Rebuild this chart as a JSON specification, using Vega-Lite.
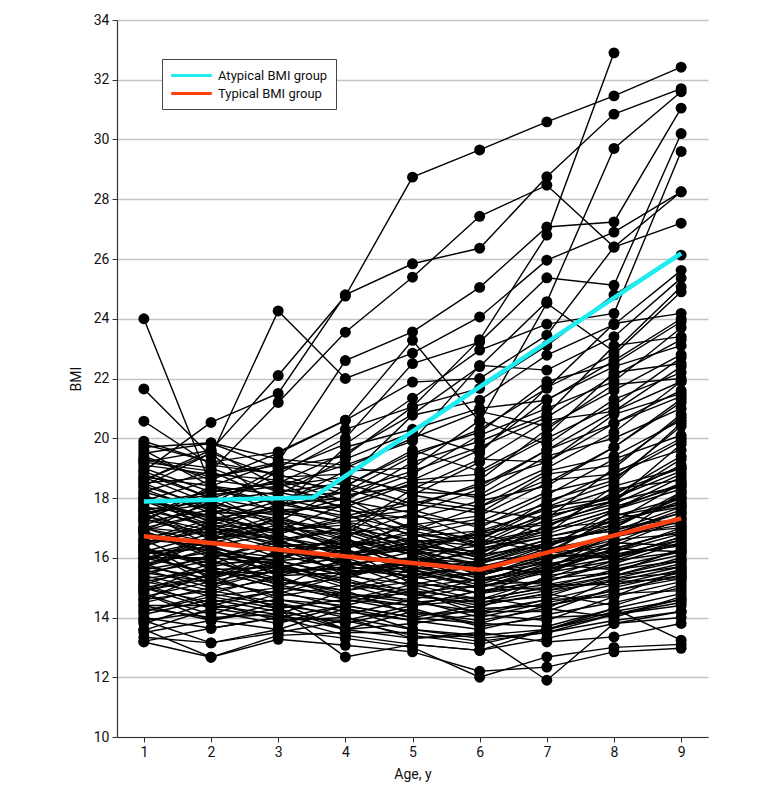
{
"$schema": "https://vega.github.io/schema/vega-lite/v6.json",
"autosize": {"type": "none"},
"padding": {"left": 117, "top": 20, "right": 72, "bottom": 56},
"width": 591,
"height": 717,
"background": "white",
"config": {"view": {"stroke": null}, "font": "Roboto"},
"datasets": {
"means": [
{"group": "Atypical BMI group", "age": 1, "bmi": 17.88},
{"group": "Atypical BMI group", "age": 3.52, "bmi": 18.02},
{"group": "Atypical BMI group", "age": 9, "bmi": 26.19},
{"group": "Typical BMI group", "age": 1, "bmi": 16.72},
{"group": "Typical BMI group", "age": 6, "bmi": 15.6},
{"group": "Typical BMI group", "age": 9, "bmi": 17.32}
],
"kids": [
{"id":1,"age":1,"bmi":18.6},{"id":1,"age":2,"bmi":19.6},{"id":1,"age":3,"bmi":22.1},{"id":1,"age":4,"bmi":24.76},{"id":1,"age":5,"bmi":28.74},{"id":1,"age":6,"bmi":29.65},{"id":1,"age":7,"bmi":30.59},{"id":1,"age":8,"bmi":31.46},{"id":1,"age":9,"bmi":32.42},
{"id":2,"age":1,"bmi":18.9},{"id":2,"age":2,"bmi":20.53},{"id":2,"age":3,"bmi":21.5},{"id":2,"age":4,"bmi":24.8},{"id":2,"age":5,"bmi":25.84},{"id":2,"age":6,"bmi":26.36},{"id":2,"age":7,"bmi":28.75},{"id":2,"age":8,"bmi":30.85},{"id":2,"age":9,"bmi":31.7},
{"id":3,"age":1,"bmi":19.2},{"id":3,"age":2,"bmi":18.9},{"id":3,"age":3,"bmi":21.2},{"id":3,"age":4,"bmi":23.55},{"id":3,"age":5,"bmi":25.39},{"id":3,"age":6,"bmi":27.43},{"id":3,"age":7,"bmi":28.47},{"id":3,"age":8,"bmi":26.4},{"id":3,"age":9,"bmi":28.25},
{"id":4,"age":1,"bmi":17.5},{"id":4,"age":2,"bmi":17.8},{"id":4,"age":3,"bmi":19.0},{"id":4,"age":4,"bmi":20.3},{"id":4,"age":5,"bmi":21.05},{"id":4,"age":6,"bmi":23.3},{"id":4,"age":7,"bmi":26.8},{"id":4,"age":8,"bmi":32.9},
{"id":5,"age":1,"bmi":17.8},{"id":5,"age":2,"bmi":18.2},{"id":5,"age":3,"bmi":18.5},{"id":5,"age":4,"bmi":19.5},{"id":5,"age":5,"bmi":20.8},{"id":5,"age":6,"bmi":22.4},{"id":5,"age":7,"bmi":24.57},{"id":5,"age":8,"bmi":29.7},{"id":5,"age":9,"bmi":31.6},
{"id":6,"age":1,"bmi":24.0},{"id":6,"age":2,"bmi":18.4},{"id":6,"age":3,"bmi":19.2},{"id":6,"age":4,"bmi":22.6},{"id":6,"age":5,"bmi":23.56},{"id":6,"age":6,"bmi":25.05},{"id":6,"age":7,"bmi":27.07},{"id":6,"age":8,"bmi":27.24},{"id":6,"age":9,"bmi":31.05},
{"id":7,"age":1,"bmi":21.65},{"id":7,"age":2,"bmi":19.4},{"id":7,"age":3,"bmi":24.26},{"id":7,"age":4,"bmi":22.0},{"id":7,"age":5,"bmi":22.85},{"id":7,"age":6,"bmi":24.06},{"id":7,"age":7,"bmi":25.96},{"id":7,"age":8,"bmi":26.9},{"id":7,"age":9,"bmi":28.25},
{"id":8,"age":1,"bmi":20.57},{"id":8,"age":2,"bmi":19.1},{"id":8,"age":3,"bmi":18.8},{"id":8,"age":4,"bmi":20.0},{"id":8,"age":5,"bmi":22.5},{"id":8,"age":6,"bmi":23.22},{"id":8,"age":7,"bmi":25.37},{"id":8,"age":8,"bmi":25.12},{"id":8,"age":9,"bmi":30.2},
{"id":9,"age":1,"bmi":18.2},{"id":9,"age":2,"bmi":17.6},{"id":9,"age":3,"bmi":18.9},{"id":9,"age":4,"bmi":19.8},{"id":9,"age":5,"bmi":21.34},{"id":9,"age":6,"bmi":22.95},{"id":9,"age":7,"bmi":23.82},{"id":9,"age":8,"bmi":24.18},{"id":9,"age":9,"bmi":29.6},
{"id":10,"age":1,"bmi":17.9},{"id":10,"age":2,"bmi":18.6},{"id":10,"age":3,"bmi":19.5},{"id":10,"age":4,"bmi":20.6},{"id":10,"age":5,"bmi":21.88},{"id":10,"age":6,"bmi":22.0},{"id":10,"age":7,"bmi":23.45},{"id":10,"age":8,"bmi":26.4},{"id":10,"age":9,"bmi":27.2},
{"id":11,"age":1,"bmi":19.5},{"id":11,"age":2,"bmi":19.83},{"id":11,"age":3,"bmi":19.0},{"id":11,"age":4,"bmi":19.4},{"id":11,"age":5,"bmi":21.05},{"id":11,"age":6,"bmi":21.67},{"id":11,"age":7,"bmi":23.1},{"id":11,"age":8,"bmi":24.8},{"id":11,"age":9,"bmi":26.13},
{"id":12,"age":1,"bmi":18.0},{"id":12,"age":2,"bmi":17.2},{"id":12,"age":3,"bmi":17.9},{"id":12,"age":4,"bmi":18.6},{"id":12,"age":5,"bmi":20.77},{"id":12,"age":6,"bmi":21.27},{"id":12,"age":7,"bmi":22.78},{"id":12,"age":8,"bmi":23.8},{"id":12,"age":9,"bmi":25.62},
{"id":13,"age":1,"bmi":17.3},{"id":13,"age":2,"bmi":18.1},{"id":13,"age":3,"bmi":18.4},{"id":13,"age":4,"bmi":19.1},{"id":13,"age":5,"bmi":19.9},{"id":13,"age":6,"bmi":22.44},{"id":13,"age":7,"bmi":22.28},{"id":13,"age":8,"bmi":23.4},{"id":13,"age":9,"bmi":25.36},
{"id":14,"age":1,"bmi":19.8},{"id":14,"age":2,"bmi":19.2},{"id":14,"age":3,"bmi":19.54},{"id":14,"age":4,"bmi":20.6},{"id":14,"age":5,"bmi":23.28},{"id":14,"age":6,"bmi":20.55},{"id":14,"age":7,"bmi":24.52},{"id":14,"age":8,"bmi":22.9},{"id":14,"age":9,"bmi":25.07},
{"id":15,"age":1,"bmi":16.9},{"id":15,"age":2,"bmi":17.5},{"id":15,"age":3,"bmi":18.0},{"id":15,"age":4,"bmi":18.2},{"id":15,"age":5,"bmi":19.4},{"id":15,"age":6,"bmi":20.3},{"id":15,"age":7,"bmi":21.67},{"id":15,"age":8,"bmi":23.84},{"id":15,"age":9,"bmi":24.18},
{"id":16,"age":1,"bmi":18.4},{"id":16,"age":2,"bmi":19.5},{"id":16,"age":3,"bmi":17.6},{"id":16,"age":4,"bmi":19.7},{"id":16,"age":5,"bmi":20.3},{"id":16,"age":6,"bmi":21.0},{"id":16,"age":7,"bmi":21.27},{"id":16,"age":8,"bmi":22.6},{"id":16,"age":9,"bmi":24.0},
{"id":17,"age":1,"bmi":17.0},{"id":17,"age":2,"bmi":16.8},{"id":17,"age":3,"bmi":17.4},{"id":17,"age":4,"bmi":18.0},{"id":17,"age":5,"bmi":18.8},{"id":17,"age":6,"bmi":20.1},{"id":17,"age":7,"bmi":21.0},{"id":17,"age":8,"bmi":21.9},{"id":17,"age":9,"bmi":23.7},
{"id":18,"age":1,"bmi":18.8},{"id":18,"age":2,"bmi":18.0},{"id":18,"age":3,"bmi":18.6},{"id":18,"age":4,"bmi":17.9},{"id":18,"age":5,"bmi":19.2},{"id":18,"age":6,"bmi":19.9},{"id":18,"age":7,"bmi":20.8},{"id":18,"age":8,"bmi":23.1},{"id":18,"age":9,"bmi":23.4},
{"id":19,"age":1,"bmi":16.4},{"id":19,"age":2,"bmi":17.1},{"id":19,"age":3,"bmi":16.9},{"id":19,"age":4,"bmi":17.8},{"id":19,"age":5,"bmi":18.6},{"id":19,"age":6,"bmi":19.6},{"id":19,"age":7,"bmi":21.3},{"id":19,"age":8,"bmi":22.4},{"id":19,"age":9,"bmi":23.1},
{"id":20,"age":1,"bmi":19.3},{"id":20,"age":2,"bmi":18.7},{"id":20,"age":3,"bmi":19.2},{"id":20,"age":4,"bmi":19.0},{"id":20,"age":5,"bmi":20.0},{"id":20,"age":6,"bmi":20.9},{"id":20,"age":7,"bmi":20.4},{"id":20,"age":8,"bmi":21.6},{"id":20,"age":9,"bmi":22.8},
{"id":21,"age":1,"bmi":17.6},{"id":21,"age":2,"bmi":17.9},{"id":21,"age":3,"bmi":17.2},{"id":21,"age":4,"bmi":18.4},{"id":21,"age":5,"bmi":19.6},{"id":21,"age":6,"bmi":18.9},{"id":21,"age":7,"bmi":20.1},{"id":21,"age":8,"bmi":22.2},{"id":21,"age":9,"bmi":22.5},
{"id":22,"age":1,"bmi":18.1},{"id":22,"age":2,"bmi":16.9},{"id":22,"age":3,"bmi":17.8},{"id":22,"age":4,"bmi":18.9},{"id":22,"age":5,"bmi":19.0},{"id":22,"age":6,"bmi":20.6},{"id":22,"age":7,"bmi":19.8},{"id":22,"age":8,"bmi":21.3},{"id":22,"age":9,"bmi":22.2},
{"id":23,"age":1,"bmi":15.9},{"id":23,"age":2,"bmi":16.6},{"id":23,"age":3,"bmi":17.0},{"id":23,"age":4,"bmi":16.8},{"id":23,"age":5,"bmi":18.1},{"id":23,"age":6,"bmi":19.2},{"id":23,"age":7,"bmi":20.6},{"id":23,"age":8,"bmi":20.9},{"id":23,"age":9,"bmi":21.9},
{"id":24,"age":1,"bmi":17.2},{"id":24,"age":2,"bmi":18.4},{"id":24,"age":3,"bmi":18.1},{"id":24,"age":4,"bmi":19.3},{"id":24,"age":5,"bmi":20.2},{"id":24,"age":6,"bmi":19.5},{"id":24,"age":7,"bmi":21.7},{"id":24,"age":8,"bmi":22.8},{"id":24,"age":9,"bmi":24.9},
{"id":25,"age":1,"bmi":16.8},{"id":25,"age":2,"bmi":16.2},{"id":25,"age":3,"bmi":15.9},{"id":25,"age":4,"bmi":15.4},{"id":25,"age":5,"bmi":15.1},{"id":25,"age":6,"bmi":15.0},{"id":25,"age":7,"bmi":15.6},{"id":25,"age":8,"bmi":16.3},{"id":25,"age":9,"bmi":16.9},
{"id":26,"age":1,"bmi":15.2},{"id":26,"age":2,"bmi":15.6},{"id":26,"age":3,"bmi":15.0},{"id":26,"age":4,"bmi":14.8},{"id":26,"age":5,"bmi":14.5},{"id":26,"age":6,"bmi":14.2},{"id":26,"age":7,"bmi":14.6},{"id":26,"age":8,"bmi":15.1},{"id":26,"age":9,"bmi":15.4},
{"id":27,"age":1,"bmi":17.9},{"id":27,"age":2,"bmi":17.1},{"id":27,"age":3,"bmi":16.6},{"id":27,"age":4,"bmi":16.9},{"id":27,"age":5,"bmi":16.2},{"id":27,"age":6,"bmi":15.8},{"id":27,"age":7,"bmi":16.5},{"id":27,"age":8,"bmi":17.0},{"id":27,"age":9,"bmi":18.2},
{"id":28,"age":1,"bmi":14.6},{"id":28,"age":2,"bmi":14.9},{"id":28,"age":3,"bmi":15.3},{"id":28,"age":4,"bmi":14.7},{"id":28,"age":5,"bmi":14.4},{"id":28,"age":6,"bmi":14.9},{"id":28,"age":7,"bmi":15.2},{"id":28,"age":8,"bmi":15.8},{"id":28,"age":9,"bmi":16.5},
{"id":29,"age":1,"bmi":18.5},{"id":29,"age":2,"bmi":17.6},{"id":29,"age":3,"bmi":17.2},{"id":29,"age":4,"bmi":16.4},{"id":29,"age":5,"bmi":16.8},{"id":29,"age":6,"bmi":16.1},{"id":29,"age":7,"bmi":17.3},{"id":29,"age":8,"bmi":18.1},{"id":29,"age":9,"bmi":19.4},
{"id":30,"age":1,"bmi":16.1},{"id":30,"age":2,"bmi":15.4},{"id":30,"age":3,"bmi":15.8},{"id":30,"age":4,"bmi":15.2},{"id":30,"age":5,"bmi":14.9},{"id":30,"age":6,"bmi":14.6},{"id":30,"age":7,"bmi":15.0},{"id":30,"age":8,"bmi":15.4},{"id":30,"age":9,"bmi":15.9},
{"id":31,"age":1,"bmi":19.6},{"id":31,"age":2,"bmi":18.4},{"id":31,"age":3,"bmi":17.5},{"id":31,"age":4,"bmi":17.8},{"id":31,"age":5,"bmi":17.0},{"id":31,"age":6,"bmi":16.6},{"id":31,"age":7,"bmi":17.9},{"id":31,"age":8,"bmi":18.6},{"id":31,"age":9,"bmi":20.4},
{"id":32,"age":1,"bmi":13.2},{"id":32,"age":2,"bmi":13.64},{"id":32,"age":3,"bmi":14.0},{"id":32,"age":4,"bmi":13.9},{"id":32,"age":5,"bmi":13.4},{"id":32,"age":6,"bmi":13.1},{"id":32,"age":7,"bmi":13.6},{"id":32,"age":8,"bmi":14.2},{"id":32,"age":9,"bmi":14.6},
{"id":33,"age":1,"bmi":17.4},{"id":33,"age":2,"bmi":16.9},{"id":33,"age":3,"bmi":16.3},{"id":33,"age":4,"bmi":15.8},{"id":33,"age":5,"bmi":15.6},{"id":33,"age":6,"bmi":15.2},{"id":33,"age":7,"bmi":15.9},{"id":33,"age":8,"bmi":16.8},{"id":33,"age":9,"bmi":17.6},
{"id":34,"age":1,"bmi":15.7},{"id":34,"age":2,"bmi":16.3},{"id":34,"age":3,"bmi":15.4},{"id":34,"age":4,"bmi":15.9},{"id":34,"age":5,"bmi":15.3},{"id":34,"age":6,"bmi":15.5},{"id":34,"age":7,"bmi":16.2},{"id":34,"age":8,"bmi":16.0},{"id":34,"age":9,"bmi":16.7},
{"id":35,"age":1,"bmi":16.5},{"id":35,"age":2,"bmi":17.2},{"id":35,"age":3,"bmi":16.8},{"id":35,"age":4,"bmi":16.0},{"id":35,"age":5,"bmi":16.4},{"id":35,"age":6,"bmi":15.9},{"id":35,"age":7,"bmi":16.1},{"id":35,"age":8,"bmi":17.4},{"id":35,"age":9,"bmi":18.0},
{"id":36,"age":1,"bmi":14.2},{"id":36,"age":2,"bmi":14.8},{"id":36,"age":3,"bmi":14.4},{"id":36,"age":4,"bmi":14.1},{"id":36,"age":5,"bmi":14.6},{"id":36,"age":6,"bmi":14.0},{"id":36,"age":7,"bmi":14.5},{"id":36,"age":8,"bmi":14.9},{"id":36,"age":9,"bmi":15.3},
{"id":37,"age":1,"bmi":18.2},{"id":37,"age":2,"bmi":18.9},{"id":37,"age":3,"bmi":17.9},{"id":37,"age":4,"bmi":17.3},{"id":37,"age":5,"bmi":17.6},{"id":37,"age":6,"bmi":17.0},{"id":37,"age":7,"bmi":18.1},{"id":37,"age":8,"bmi":19.3},{"id":37,"age":9,"bmi":20.1},
{"id":38,"age":1,"bmi":15.0},{"id":38,"age":2,"bmi":14.5},{"id":38,"age":3,"bmi":14.9},{"id":38,"age":4,"bmi":15.5},{"id":38,"age":5,"bmi":14.8},{"id":38,"age":6,"bmi":14.3},{"id":38,"age":7,"bmi":15.4},{"id":38,"age":8,"bmi":15.7},{"id":38,"age":9,"bmi":16.2},
{"id":39,"age":1,"bmi":16.9},{"id":39,"age":2,"bmi":16.0},{"id":39,"age":3,"bmi":16.5},{"id":39,"age":4,"bmi":16.2},{"id":39,"age":5,"bmi":15.7},{"id":39,"age":6,"bmi":16.3},{"id":39,"age":7,"bmi":16.8},{"id":39,"age":8,"bmi":17.5},{"id":39,"age":9,"bmi":17.1},
{"id":40,"age":1,"bmi":17.7},{"id":40,"age":2,"bmi":17.4},{"id":40,"age":3,"bmi":16.9},{"id":40,"age":4,"bmi":17.1},{"id":40,"age":5,"bmi":16.5},{"id":40,"age":6,"bmi":16.8},{"id":40,"age":7,"bmi":17.2},{"id":40,"age":8,"bmi":17.8},{"id":40,"age":9,"bmi":18.8},
{"id":41,"age":1,"bmi":13.57},{"id":41,"age":2,"bmi":14.3},{"id":41,"age":3,"bmi":14.6},{"id":41,"age":4,"bmi":14.2},{"id":41,"age":5,"bmi":13.9},{"id":41,"age":6,"bmi":13.6},{"id":41,"age":7,"bmi":14.1},{"id":41,"age":8,"bmi":14.5},{"id":41,"age":9,"bmi":15.0},
{"id":42,"age":1,"bmi":19.0},{"id":42,"age":2,"bmi":18.2},{"id":42,"age":3,"bmi":18.5},{"id":42,"age":4,"bmi":17.6},{"id":42,"age":5,"bmi":17.3},{"id":42,"age":6,"bmi":17.9},{"id":42,"age":7,"bmi":18.4},{"id":42,"age":8,"bmi":19.7},{"id":42,"age":9,"bmi":21.2},
{"id":43,"age":1,"bmi":15.5},{"id":43,"age":2,"bmi":15.9},{"id":43,"age":3,"bmi":15.2},{"id":43,"age":4,"bmi":14.9},{"id":43,"age":5,"bmi":15.2},{"id":43,"age":6,"bmi":14.8},{"id":43,"age":7,"bmi":15.3},{"id":43,"age":8,"bmi":16.1},{"id":43,"age":9,"bmi":16.4},
{"id":44,"age":1,"bmi":16.3},{"id":44,"age":2,"bmi":15.7},{"id":44,"age":3,"bmi":16.1},{"id":44,"age":4,"bmi":15.6},{"id":44,"age":5,"bmi":15.9},{"id":44,"age":6,"bmi":15.3},{"id":44,"age":7,"bmi":15.7},{"id":44,"age":8,"bmi":16.4},{"id":44,"age":9,"bmi":17.3},
{"id":45,"age":1,"bmi":14.9},{"id":45,"age":2,"bmi":15.3},{"id":45,"age":3,"bmi":14.7},{"id":45,"age":4,"bmi":15.1},{"id":45,"age":5,"bmi":14.5},{"id":45,"age":6,"bmi":14.7},{"id":45,"age":7,"bmi":14.3},{"id":45,"age":8,"bmi":15.3},{"id":45,"age":9,"bmi":15.8},
{"id":46,"age":1,"bmi":17.1},{"id":46,"age":2,"bmi":17.8},{"id":46,"age":3,"bmi":17.4},{"id":46,"age":4,"bmi":16.6},{"id":46,"age":5,"bmi":16.1},{"id":46,"age":6,"bmi":16.4},{"id":46,"age":7,"bmi":17.0},{"id":46,"age":8,"bmi":17.2},{"id":46,"age":9,"bmi":18.5},
{"id":47,"age":1,"bmi":18.7},{"id":47,"age":2,"bmi":17.8},{"id":47,"age":3,"bmi":16.8},{"id":47,"age":4,"bmi":17.4},{"id":47,"age":5,"bmi":16.9},{"id":47,"age":6,"bmi":17.3},{"id":47,"age":7,"bmi":16.8},{"id":47,"age":8,"bmi":18.4},{"id":47,"age":9,"bmi":19.0},
{"id":48,"age":1,"bmi":15.8},{"id":48,"age":2,"bmi":15.1},{"id":48,"age":3,"bmi":15.6},{"id":48,"age":4,"bmi":16.3},{"id":48,"age":5,"bmi":15.5},{"id":48,"age":6,"bmi":15.1},{"id":48,"age":7,"bmi":15.8},{"id":48,"age":8,"bmi":15.6},{"id":48,"age":9,"bmi":16.1},
{"id":49,"age":1,"bmi":13.9},{"id":49,"age":2,"bmi":14.2},{"id":49,"age":3,"bmi":13.8},{"id":49,"age":4,"bmi":14.4},{"id":49,"age":5,"bmi":14.0},{"id":49,"age":6,"bmi":14.4},{"id":49,"age":7,"bmi":14.8},{"id":49,"age":8,"bmi":14.4},{"id":49,"age":9,"bmi":15.1},
{"id":50,"age":1,"bmi":16.6},{"id":50,"age":2,"bmi":16.4},{"id":50,"age":3,"bmi":15.7},{"id":50,"age":4,"bmi":15.3},{"id":50,"age":5,"bmi":16.0},{"id":50,"age":6,"bmi":15.6},{"id":50,"age":7,"bmi":16.4},{"id":50,"age":8,"bmi":17.1},{"id":50,"age":9,"bmi":17.9},
{"id":51,"age":1,"bmi":19.3},{"id":51,"age":2,"bmi":19.0},{"id":51,"age":3,"bmi":18.2},{"id":51,"age":4,"bmi":18.5},{"id":51,"age":5,"bmi":17.8},{"id":51,"age":6,"bmi":17.5},{"id":51,"age":7,"bmi":18.8},{"id":51,"age":8,"bmi":19.1},{"id":51,"age":9,"bmi":20.7},
{"id":52,"age":1,"bmi":15.3},{"id":52,"age":2,"bmi":14.7},{"id":52,"age":3,"bmi":14.3},{"id":52,"age":4,"bmi":14.6},{"id":52,"age":5,"bmi":14.2},{"id":52,"age":6,"bmi":13.8},{"id":52,"age":7,"bmi":14.4},{"id":52,"age":8,"bmi":14.8},{"id":52,"age":9,"bmi":14.9},
{"id":53,"age":1,"bmi":17.0},{"id":53,"age":2,"bmi":16.5},{"id":53,"age":3,"bmi":17.0},{"id":53,"age":4,"bmi":16.4},{"id":53,"age":5,"bmi":16.6},{"id":53,"age":6,"bmi":16.0},{"id":53,"age":7,"bmi":16.6},{"id":53,"age":8,"bmi":16.9},{"id":53,"age":9,"bmi":17.5},
{"id":54,"age":1,"bmi":14.4},{"id":54,"age":2,"bmi":13.9},{"id":54,"age":3,"bmi":14.5},{"id":54,"age":4,"bmi":13.6},{"id":54,"age":5,"bmi":13.8},{"id":54,"age":6,"bmi":14.1},{"id":54,"age":7,"bmi":13.9},{"id":54,"age":8,"bmi":14.7},{"id":54,"age":9,"bmi":15.6},
{"id":55,"age":1,"bmi":18.0},{"id":55,"age":2,"bmi":17.3},{"id":55,"age":3,"bmi":17.7},{"id":55,"age":4,"bmi":16.8},{"id":55,"age":5,"bmi":17.1},{"id":55,"age":6,"bmi":16.5},{"id":55,"age":7,"bmi":17.5},{"id":55,"age":8,"bmi":18.0},{"id":55,"age":9,"bmi":19.1},
{"id":56,"age":1,"bmi":16.2},{"id":56,"age":2,"bmi":16.8},{"id":56,"age":3,"bmi":16.0},{"id":56,"age":4,"bmi":16.7},{"id":56,"age":5,"bmi":15.4},{"id":56,"age":6,"bmi":15.8},{"id":56,"age":7,"bmi":15.4},{"id":56,"age":8,"bmi":16.6},{"id":56,"age":9,"bmi":16.8},
{"id":57,"age":1,"bmi":15.6},{"id":57,"age":2,"bmi":16.0},{"id":57,"age":3,"bmi":16.6},{"id":57,"age":4,"bmi":15.7},{"id":57,"age":5,"bmi":16.2},{"id":57,"age":6,"bmi":15.4},{"id":57,"age":7,"bmi":16.0},{"id":57,"age":8,"bmi":16.2},{"id":57,"age":9,"bmi":17.0},
{"id":58,"age":1,"bmi":17.6},{"id":58,"age":2,"bmi":16.6},{"id":58,"age":3,"bmi":16.2},{"id":58,"age":4,"bmi":16.6},{"id":58,"age":5,"bmi":15.8},{"id":58,"age":6,"bmi":16.2},{"id":58,"age":7,"bmi":16.9},{"id":58,"age":8,"bmi":17.6},{"id":58,"age":9,"bmi":18.3},
{"id":59,"age":1,"bmi":14.7},{"id":59,"age":2,"bmi":15.2},{"id":59,"age":3,"bmi":15.7},{"id":59,"age":4,"bmi":15.0},{"id":59,"age":5,"bmi":15.6},{"id":59,"age":6,"bmi":15.0},{"id":59,"age":7,"bmi":15.5},{"id":59,"age":8,"bmi":15.9},{"id":59,"age":9,"bmi":16.6},
{"id":60,"age":1,"bmi":19.9},{"id":60,"age":2,"bmi":19.2},{"id":60,"age":3,"bmi":18.8},{"id":60,"age":4,"bmi":18.1},{"id":60,"age":5,"bmi":18.4},{"id":60,"age":6,"bmi":18.0},{"id":60,"age":7,"bmi":19.0},{"id":60,"age":8,"bmi":20.2},{"id":60,"age":9,"bmi":21.9},
{"id":61,"age":1,"bmi":13.34},{"id":61,"age":2,"bmi":13.15},{"id":61,"age":3,"bmi":13.6},{"id":61,"age":4,"bmi":14.3},{"id":61,"age":5,"bmi":13.6},{"id":61,"age":6,"bmi":13.3},{"id":61,"age":7,"bmi":13.5},{"id":61,"age":8,"bmi":13.9},{"id":61,"age":9,"bmi":14.2},
{"id":62,"age":1,"bmi":16.0},{"id":62,"age":2,"bmi":15.5},{"id":62,"age":3,"bmi":15.5},{"id":62,"age":4,"bmi":15.8},{"id":62,"age":5,"bmi":15.0},{"id":62,"age":6,"bmi":15.3},{"id":62,"age":7,"bmi":15.1},{"id":62,"age":8,"bmi":15.5},{"id":62,"age":9,"bmi":16.3},
{"id":63,"age":1,"bmi":17.3},{"id":63,"age":2,"bmi":16.7},{"id":63,"age":3,"bmi":17.3},{"id":63,"age":4,"bmi":16.1},{"id":63,"age":5,"bmi":16.7},{"id":63,"age":6,"bmi":16.9},{"id":63,"age":7,"bmi":17.6},{"id":63,"age":8,"bmi":18.3},{"id":63,"age":9,"bmi":18.6},
{"id":64,"age":1,"bmi":15.4},{"id":64,"age":2,"bmi":16.1},{"id":64,"age":3,"bmi":15.1},{"id":64,"age":4,"bmi":15.3},{"id":64,"age":5,"bmi":14.7},{"id":64,"age":6,"bmi":14.5},{"id":64,"age":7,"bmi":14.9},{"id":64,"age":8,"bmi":15.2},{"id":64,"age":9,"bmi":15.7},
{"id":65,"age":1,"bmi":18.3},{"id":65,"age":2,"bmi":17.5},{"id":65,"age":3,"bmi":18.0},{"id":65,"age":4,"bmi":17.5},{"id":65,"age":5,"bmi":16.4},{"id":65,"age":6,"bmi":16.7},{"id":65,"age":7,"bmi":17.4},{"id":65,"age":8,"bmi":17.9},{"id":65,"age":9,"bmi":19.8},
{"id":66,"age":1,"bmi":14.1},{"id":66,"age":2,"bmi":14.6},{"id":66,"age":3,"bmi":14.2},{"id":66,"age":4,"bmi":13.8},{"id":66,"age":5,"bmi":14.3},{"id":66,"age":6,"bmi":13.7},{"id":66,"age":7,"bmi":14.0},{"id":66,"age":8,"bmi":14.1},{"id":66,"age":9,"bmi":14.4},
{"id":67,"age":1,"bmi":16.7},{"id":67,"age":2,"bmi":17.0},{"id":67,"age":3,"bmi":16.4},{"id":67,"age":4,"bmi":16.5},{"id":67,"age":5,"bmi":15.8},{"id":67,"age":6,"bmi":16.6},{"id":67,"age":7,"bmi":16.2},{"id":67,"age":8,"bmi":17.3},{"id":67,"age":9,"bmi":17.7},
{"id":68,"age":1,"bmi":15.1},{"id":68,"age":2,"bmi":15.8},{"id":68,"age":3,"bmi":15.9},{"id":68,"age":4,"bmi":15.4},{"id":68,"age":5,"bmi":16.0},{"id":68,"age":6,"bmi":15.6},{"id":68,"age":7,"bmi":16.3},{"id":68,"age":8,"bmi":16.7},{"id":68,"age":9,"bmi":17.2},
{"id":69,"age":1,"bmi":17.8},{"id":69,"age":2,"bmi":18.1},{"id":69,"age":3,"bmi":17.0},{"id":69,"age":4,"bmi":16.3},{"id":69,"age":5,"bmi":17.2},{"id":69,"age":6,"bmi":16.3},{"id":69,"age":7,"bmi":16.7},{"id":69,"age":8,"bmi":17.1},{"id":69,"age":9,"bmi":18.0},
{"id":70,"age":1,"bmi":16.4},{"id":70,"age":2,"bmi":15.3},{"id":70,"age":3,"bmi":16.2},{"id":70,"age":4,"bmi":15.9},{"id":70,"age":5,"bmi":15.2},{"id":70,"age":6,"bmi":14.8},{"id":70,"age":7,"bmi":15.6},{"id":70,"age":8,"bmi":16.0},{"id":70,"age":9,"bmi":16.5},
{"id":71,"age":1,"bmi":14.8},{"id":71,"age":2,"bmi":14.1},{"id":71,"age":3,"bmi":14.8},{"id":71,"age":4,"bmi":14.5},{"id":71,"age":5,"bmi":15.0},{"id":71,"age":6,"bmi":14.5},{"id":71,"age":7,"bmi":14.7},{"id":71,"age":8,"bmi":15.4},{"id":71,"age":9,"bmi":16.0},
{"id":72,"age":1,"bmi":19.4},{"id":72,"age":2,"bmi":18.6},{"id":72,"age":3,"bmi":18.3},{"id":72,"age":4,"bmi":17.9},{"id":72,"age":5,"bmi":17.5},{"id":72,"age":6,"bmi":18.3},{"id":72,"age":7,"bmi":19.6},{"id":72,"age":8,"bmi":20.5},{"id":72,"age":9,"bmi":21.6},
{"id":73,"age":1,"bmi":13.18},{"id":73,"age":2,"bmi":12.67},{"id":73,"age":3,"bmi":13.27},{"id":73,"age":4,"bmi":13.07},{"id":73,"age":5,"bmi":12.85},{"id":73,"age":6,"bmi":12.2},{"id":73,"age":7,"bmi":12.34},{"id":73,"age":8,"bmi":12.85},{"id":73,"age":9,"bmi":12.97},
{"id":74,"age":1,"bmi":15.9},{"id":74,"age":2,"bmi":16.7},{"id":74,"age":3,"bmi":16.7},{"id":74,"age":4,"bmi":16.1},{"id":74,"age":5,"bmi":16.5},{"id":74,"age":6,"bmi":16.0},{"id":74,"age":7,"bmi":17.1},{"id":74,"age":8,"bmi":17.7},{"id":74,"age":9,"bmi":18.4},
{"id":75,"age":1,"bmi":17.5},{"id":75,"age":2,"bmi":16.4},{"id":75,"age":3,"bmi":15.6},{"id":75,"age":4,"bmi":15.6},{"id":75,"age":5,"bmi":15.4},{"id":75,"age":6,"bmi":15.7},{"id":75,"age":7,"bmi":16.0},{"id":75,"age":8,"bmi":16.5},{"id":75,"age":9,"bmi":17.4},
{"id":76,"age":1,"bmi":16.2},{"id":76,"age":2,"bmi":15.9},{"id":76,"age":3,"bmi":15.3},{"id":76,"age":4,"bmi":14.8},{"id":76,"age":5,"bmi":14.6},{"id":76,"age":6,"bmi":15.1},{"id":76,"age":7,"bmi":15.2},{"id":76,"age":8,"bmi":15.9},{"id":76,"age":9,"bmi":16.2},
{"id":77,"age":1,"bmi":18.6},{"id":77,"age":2,"bmi":19.5},{"id":77,"age":3,"bmi":18.7},{"id":77,"age":4,"bmi":18.8},{"id":77,"age":5,"bmi":18.1},{"id":77,"age":6,"bmi":17.7},{"id":77,"age":7,"bmi":18.6},{"id":77,"age":8,"bmi":18.8},{"id":77,"age":9,"bmi":20.0},
{"id":78,"age":1,"bmi":14.3},{"id":78,"age":2,"bmi":14.0},{"id":78,"age":3,"bmi":14.1},{"id":78,"age":4,"bmi":14.9},{"id":78,"age":5,"bmi":14.1},{"id":78,"age":6,"bmi":14.2},{"id":78,"age":7,"bmi":14.2},{"id":78,"age":8,"bmi":15.0},{"id":78,"age":9,"bmi":15.5},
{"id":79,"age":1,"bmi":15.6},{"id":79,"age":2,"bmi":15.0},{"id":79,"age":3,"bmi":16.3},{"id":79,"age":4,"bmi":15.5},{"id":79,"age":5,"bmi":15.7},{"id":79,"age":6,"bmi":15.2},{"id":79,"age":7,"bmi":15.9},{"id":79,"age":8,"bmi":16.8},{"id":79,"age":9,"bmi":17.0},
{"id":80,"age":1,"bmi":17.2},{"id":80,"age":2,"bmi":17.6},{"id":80,"age":3,"bmi":16.6},{"id":80,"age":4,"bmi":17.0},{"id":80,"age":5,"bmi":16.3},{"id":80,"age":6,"bmi":16.1},{"id":80,"age":7,"bmi":16.4},{"id":80,"age":8,"bmi":17.4},{"id":80,"age":9,"bmi":17.8},
{"id":81,"age":1,"bmi":16.9},{"id":81,"age":2,"bmi":16.1},{"id":81,"age":3,"bmi":15.9},{"id":81,"age":4,"bmi":16.8},{"id":81,"age":5,"bmi":16.1},{"id":81,"age":6,"bmi":15.5},{"id":81,"age":7,"bmi":15.8},{"id":81,"age":8,"bmi":16.1},{"id":81,"age":9,"bmi":16.6},
{"id":82,"age":1,"bmi":13.8},{"id":82,"age":2,"bmi":14.5},{"id":82,"age":3,"bmi":13.9},{"id":82,"age":4,"bmi":14.0},{"id":82,"age":5,"bmi":13.3},{"id":82,"age":6,"bmi":13.5},{"id":82,"age":7,"bmi":13.18},{"id":82,"age":8,"bmi":13.35},{"id":82,"age":9,"bmi":13.8},
{"id":83,"age":1,"bmi":18.9},{"id":83,"age":2,"bmi":18.0},{"id":83,"age":3,"bmi":17.6},{"id":83,"age":4,"bmi":17.2},{"id":83,"age":5,"bmi":17.4},{"id":83,"age":6,"bmi":17.1},{"id":83,"age":7,"bmi":17.8},{"id":83,"age":8,"bmi":18.9},{"id":83,"age":9,"bmi":19.6},
{"id":84,"age":1,"bmi":15.3},{"id":84,"age":2,"bmi":15.6},{"id":84,"age":3,"bmi":15.0},{"id":84,"age":4,"bmi":16.0},{"id":84,"age":5,"bmi":15.3},{"id":84,"age":6,"bmi":15.9},{"id":84,"age":7,"bmi":16.5},{"id":84,"age":8,"bmi":17.0},{"id":84,"age":9,"bmi":18.1},
{"id":85,"age":1,"bmi":16.5},{"id":85,"age":2,"bmi":16.9},{"id":85,"age":3,"bmi":16.5},{"id":85,"age":4,"bmi":15.4},{"id":85,"age":5,"bmi":15.9},{"id":85,"age":6,"bmi":15.7},{"id":85,"age":7,"bmi":15.5},{"id":85,"age":8,"bmi":16.3},{"id":85,"age":9,"bmi":16.9},
{"id":86,"age":1,"bmi":14.5},{"id":86,"age":2,"bmi":15.0},{"id":86,"age":3,"bmi":15.6},{"id":86,"age":4,"bmi":15.2},{"id":86,"age":5,"bmi":14.7},{"id":86,"age":6,"bmi":15.3},{"id":86,"age":7,"bmi":15.6},{"id":86,"age":8,"bmi":16.2},{"id":86,"age":9,"bmi":16.8},
{"id":87,"age":1,"bmi":17.7},{"id":87,"age":2,"bmi":17.0},{"id":87,"age":3,"bmi":16.7},{"id":87,"age":4,"bmi":16.3},{"id":87,"age":5,"bmi":16.9},{"id":87,"age":6,"bmi":16.4},{"id":87,"age":7,"bmi":17.4},{"id":87,"age":8,"bmi":17.9},{"id":87,"age":9,"bmi":19.3},
{"id":88,"age":1,"bmi":15.0},{"id":88,"age":2,"bmi":15.4},{"id":88,"age":3,"bmi":14.6},{"id":88,"age":4,"bmi":14.4},{"id":88,"age":5,"bmi":14.9},{"id":88,"age":6,"bmi":14.1},{"id":88,"age":7,"bmi":14.6},{"id":88,"age":8,"bmi":14.7},{"id":88,"age":9,"bmi":15.2},
{"id":89,"age":1,"bmi":16.1},{"id":89,"age":2,"bmi":16.6},{"id":89,"age":3,"bmi":17.1},{"id":89,"age":4,"bmi":16.6},{"id":89,"age":5,"bmi":16.2},{"id":89,"age":6,"bmi":16.8},{"id":89,"age":7,"bmi":16.3},{"id":89,"age":8,"bmi":17.6},{"id":89,"age":9,"bmi":18.7},
{"id":90,"age":1,"bmi":18.1},{"id":90,"age":2,"bmi":17.2},{"id":90,"age":3,"bmi":17.6},{"id":90,"age":4,"bmi":17.7},{"id":90,"age":5,"bmi":16.7},{"id":90,"age":6,"bmi":17.2},{"id":90,"age":7,"bmi":18.2},{"id":90,"age":8,"bmi":18.7},{"id":90,"age":9,"bmi":19.9},
{"id":91,"age":1,"bmi":13.5},{"id":91,"age":2,"bmi":13.9},{"id":91,"age":3,"bmi":14.3},{"id":91,"age":4,"bmi":13.6},{"id":91,"age":5,"bmi":14.2},{"id":91,"age":6,"bmi":13.9},{"id":91,"age":7,"bmi":14.3},{"id":91,"age":8,"bmi":14.0},{"id":91,"age":9,"bmi":14.7},
{"id":92,"age":1,"bmi":19.7},{"id":92,"age":2,"bmi":19.85},{"id":92,"age":3,"bmi":19.3},{"id":92,"age":4,"bmi":19.1},{"id":92,"age":5,"bmi":18.6},{"id":92,"age":6,"bmi":18.8},{"id":92,"age":7,"bmi":20.0},{"id":92,"age":8,"bmi":21.1},{"id":92,"age":9,"bmi":22.7},
{"id":93,"age":1,"bmi":15.8},{"id":93,"age":2,"bmi":16.2},{"id":93,"age":3,"bmi":15.5},{"id":93,"age":4,"bmi":15.7},{"id":93,"age":5,"bmi":15.5},{"id":93,"age":6,"bmi":15.0},{"id":93,"age":7,"bmi":15.7},{"id":93,"age":8,"bmi":16.5},{"id":93,"age":9,"bmi":16.4},
{"id":94,"age":1,"bmi":17.0},{"id":94,"age":2,"bmi":16.3},{"id":94,"age":3,"bmi":16.0},{"id":94,"age":4,"bmi":16.5},{"id":94,"age":5,"bmi":15.6},{"id":94,"age":6,"bmi":15.9},{"id":94,"age":7,"bmi":16.6},{"id":94,"age":8,"bmi":16.9},{"id":94,"age":9,"bmi":17.7},
{"id":95,"age":1,"bmi":14.0},{"id":95,"age":2,"bmi":13.64},{"id":95,"age":3,"bmi":14.0},{"id":95,"age":4,"bmi":13.4},{"id":95,"age":5,"bmi":13.1},{"id":95,"age":6,"bmi":12.9},{"id":95,"age":7,"bmi":13.3},{"id":95,"age":8,"bmi":13.8},{"id":95,"age":9,"bmi":14.0},
{"id":96,"age":1,"bmi":16.6},{"id":96,"age":2,"bmi":17.3},{"id":96,"age":3,"bmi":16.9},{"id":96,"age":4,"bmi":17.2},{"id":96,"age":5,"bmi":16.8},{"id":96,"age":6,"bmi":16.5},{"id":96,"age":7,"bmi":17.0},{"id":96,"age":8,"bmi":18.2},{"id":96,"age":9,"bmi":19.0},
{"id":97,"age":1,"bmi":15.2},{"id":97,"age":2,"bmi":14.8},{"id":97,"age":3,"bmi":15.4},{"id":97,"age":4,"bmi":14.6},{"id":97,"age":5,"bmi":14.4},{"id":97,"age":6,"bmi":14.9},{"id":97,"age":7,"bmi":15.0},{"id":97,"age":8,"bmi":15.6},{"id":97,"age":9,"bmi":15.9},
{"id":98,"age":1,"bmi":18.4},{"id":98,"age":2,"bmi":17.7},{"id":98,"age":3,"bmi":17.3},{"id":98,"age":4,"bmi":16.7},{"id":98,"age":5,"bmi":17.5},{"id":98,"age":6,"bmi":16.6},{"id":98,"age":7,"bmi":17.7},{"id":98,"age":8,"bmi":18.5},{"id":98,"age":9,"bmi":20.5},
{"id":99,"age":1,"bmi":16.3},{"id":99,"age":2,"bmi":15.8},{"id":99,"age":3,"bmi":16.4},{"id":99,"age":4,"bmi":16.3},{"id":99,"age":5,"bmi":15.1},{"id":99,"age":6,"bmi":15.5},{"id":99,"age":7,"bmi":15.9},{"id":99,"age":8,"bmi":16.7},{"id":99,"age":9,"bmi":17.1},
{"id":100,"age":1,"bmi":14.6},{"id":100,"age":2,"bmi":15.5},{"id":100,"age":3,"bmi":15.3},{"id":100,"age":4,"bmi":14.9},{"id":100,"age":5,"bmi":15.4},{"id":100,"age":6,"bmi":14.8},{"id":100,"age":7,"bmi":15.1},{"id":100,"age":8,"bmi":15.1},{"id":100,"age":9,"bmi":15.6},
{"id":101,"age":1,"bmi":17.4},{"id":101,"age":2,"bmi":18.3},{"id":101,"age":3,"bmi":17.8},{"id":101,"age":4,"bmi":17.4},{"id":101,"age":5,"bmi":17.9},{"id":101,"age":6,"bmi":17.6},{"id":101,"age":7,"bmi":17.3},{"id":101,"age":8,"bmi":19.0},{"id":101,"age":9,"bmi":20.8},
{"id":102,"age":1,"bmi":15.5},{"id":102,"age":2,"bmi":15.2},{"id":102,"age":3,"bmi":14.8},{"id":102,"age":4,"bmi":15.4},{"id":102,"age":5,"bmi":15.7},{"id":102,"age":6,"bmi":15.4},{"id":102,"age":7,"bmi":16.1},{"id":102,"age":8,"bmi":16.0},{"id":102,"age":9,"bmi":16.7},
{"id":103,"age":1,"bmi":16.8},{"id":103,"age":2,"bmi":16.5},{"id":103,"age":3,"bmi":16.2},{"id":103,"age":4,"bmi":16.0},{"id":103,"age":5,"bmi":16.3},{"id":103,"age":6,"bmi":15.4},{"id":103,"age":7,"bmi":16.0},{"id":103,"age":8,"bmi":16.6},{"id":103,"age":9,"bmi":18.2},
{"id":104,"age":1,"bmi":19.1},{"id":104,"age":2,"bmi":18.8},{"id":104,"age":3,"bmi":18.6},{"id":104,"age":4,"bmi":18.3},{"id":104,"age":5,"bmi":17.7},{"id":104,"age":6,"bmi":18.5},{"id":104,"age":7,"bmi":19.2},{"id":104,"age":8,"bmi":20.8},{"id":104,"age":9,"bmi":21.5},
{"id":105,"age":1,"bmi":13.9},{"id":105,"age":2,"bmi":13.15},{"id":105,"age":3,"bmi":13.5},{"id":105,"age":4,"bmi":13.9},{"id":105,"age":5,"bmi":14.4},{"id":105,"age":6,"bmi":14.6},{"id":105,"age":7,"bmi":15.0},{"id":105,"age":8,"bmi":15.2},{"id":105,"age":9,"bmi":15.3},
{"id":106,"age":1,"bmi":16.0},{"id":106,"age":2,"bmi":16.0},{"id":106,"age":3,"bmi":15.8},{"id":106,"age":4,"bmi":15.1},{"id":106,"age":5,"bmi":14.8},{"id":106,"age":6,"bmi":14.4},{"id":106,"age":7,"bmi":14.8},{"id":106,"age":8,"bmi":15.3},{"id":106,"age":9,"bmi":15.5},
{"id":107,"age":1,"bmi":17.9},{"id":107,"age":2,"bmi":17.4},{"id":107,"age":3,"bmi":16.5},{"id":107,"age":4,"bmi":17.0},{"id":107,"age":5,"bmi":16.6},{"id":107,"age":6,"bmi":16.4},{"id":107,"age":7,"bmi":16.9},{"id":107,"age":8,"bmi":17.6},{"id":107,"age":9,"bmi":18.5},
{"id":108,"age":1,"bmi":15.7},{"id":108,"age":2,"bmi":15.3},{"id":108,"age":3,"bmi":15.9},{"id":108,"age":4,"bmi":16.1},{"id":108,"age":5,"bmi":16.4},{"id":108,"age":6,"bmi":16.2},{"id":108,"age":7,"bmi":16.7},{"id":108,"age":8,"bmi":17.2},{"id":108,"age":9,"bmi":17.8},
{"id":109,"age":1,"bmi":14.4},{"id":109,"age":2,"bmi":14.4},{"id":109,"age":3,"bmi":14.9},{"id":109,"age":4,"bmi":14.3},{"id":109,"age":5,"bmi":13.9},{"id":109,"age":6,"bmi":14.3},{"id":109,"age":7,"bmi":14.4},{"id":109,"age":8,"bmi":14.9},{"id":109,"age":9,"bmi":15.4},
{"id":110,"age":1,"bmi":18.7},{"id":110,"age":2,"bmi":18.4},{"id":110,"age":3,"bmi":17.8},{"id":110,"age":4,"bmi":18.0},{"id":110,"age":5,"bmi":16.9},{"id":110,"age":6,"bmi":17.7},{"id":110,"age":7,"bmi":18.9},{"id":110,"age":8,"bmi":19.4},{"id":110,"age":9,"bmi":20.6},
{"id":111,"age":1,"bmi":16.4},{"id":111,"age":2,"bmi":17.0},{"id":111,"age":3,"bmi":16.6},{"id":111,"age":4,"bmi":15.8},{"id":111,"age":5,"bmi":16.0},{"id":111,"age":6,"bmi":15.8},{"id":111,"age":7,"bmi":16.4},{"id":111,"age":8,"bmi":17.0},{"id":111,"age":9,"bmi":17.3},
{"id":112,"age":1,"bmi":15.0},{"id":112,"age":2,"bmi":14.3},{"id":112,"age":3,"bmi":14.0},{"id":112,"age":4,"bmi":14.4},{"id":112,"age":5,"bmi":14.0},{"id":112,"age":6,"bmi":13.8},{"id":112,"age":7,"bmi":13.7},{"id":112,"age":8,"bmi":14.3},{"id":112,"age":9,"bmi":14.8},
{"id":113,"age":1,"bmi":17.3},{"id":113,"age":2,"bmi":16.8},{"id":113,"age":3,"bmi":17.2},{"id":113,"age":4,"bmi":16.9},{"id":113,"age":5,"bmi":16.4},{"id":113,"age":6,"bmi":16.8},{"id":113,"age":7,"bmi":17.7},{"id":113,"age":8,"bmi":18.0},{"id":113,"age":9,"bmi":18.9},
{"id":114,"age":1,"bmi":16.6},{"id":114,"age":2,"bmi":15.6},{"id":114,"age":3,"bmi":15.7},{"id":114,"age":4,"bmi":16.0},{"id":114,"age":5,"bmi":16.3},{"id":114,"age":6,"bmi":15.7},{"id":114,"age":7,"bmi":16.2},{"id":114,"age":8,"bmi":16.3},{"id":114,"age":9,"bmi":16.2},
{"id":115,"age":1,"bmi":14.9},{"id":115,"age":2,"bmi":15.7},{"id":115,"age":3,"bmi":15.1},{"id":115,"age":4,"bmi":14.6},{"id":115,"age":5,"bmi":15.1},{"id":115,"age":6,"bmi":14.6},{"id":115,"age":7,"bmi":15.3},{"id":115,"age":8,"bmi":15.5},{"id":115,"age":9,"bmi":16.3},
{"id":116,"age":1,"bmi":19.2},{"id":116,"age":2,"bmi":19.6},{"id":116,"age":3,"bmi":18.4},{"id":116,"age":4,"bmi":18.7},{"id":116,"age":5,"bmi":18.2},{"id":116,"age":6,"bmi":18.1},{"id":116,"age":7,"bmi":19.4},{"id":116,"age":8,"bmi":20.0},{"id":116,"age":9,"bmi":21.0},
{"id":117,"age":1,"bmi":15.4},{"id":117,"age":2,"bmi":14.9},{"id":117,"age":3,"bmi":14.5},{"id":117,"age":4,"bmi":14.0},{"id":117,"age":5,"bmi":13.6},{"id":117,"age":6,"bmi":13.4},{"id":117,"age":7,"bmi":13.6},{"id":117,"age":8,"bmi":14.3},{"id":117,"age":9,"bmi":13.24},
{"id":118,"age":1,"bmi":17.0},{"id":118,"age":2,"bmi":17.5},{"id":118,"age":3,"bmi":17.5},{"id":118,"age":4,"bmi":17.2},{"id":118,"age":5,"bmi":16.2},{"id":118,"age":6,"bmi":16.9},{"id":118,"age":7,"bmi":17.1},{"id":118,"age":8,"bmi":17.9},{"id":118,"age":9,"bmi":18.4},
{"id":119,"age":1,"bmi":16.2},{"id":119,"age":2,"bmi":16.3},{"id":119,"age":3,"bmi":15.4},{"id":119,"age":4,"bmi":15.5},{"id":119,"age":5,"bmi":15.8},{"id":119,"age":6,"bmi":15.2},{"id":119,"age":7,"bmi":15.6},{"id":119,"age":8,"bmi":16.8},{"id":119,"age":9,"bmi":17.5},
{"id":120,"age":1,"bmi":14.2},{"id":120,"age":2,"bmi":14.7},{"id":120,"age":3,"bmi":15.0},{"id":120,"age":4,"bmi":14.7},{"id":120,"age":5,"bmi":14.8},{"id":120,"age":6,"bmi":15.1},{"id":120,"age":7,"bmi":14.9},{"id":120,"age":8,"bmi":15.4},{"id":120,"age":9,"bmi":15.7},
{"id":121,"age":1,"bmi":14.8},{"id":121,"age":2,"bmi":13.9},{"id":121,"age":3,"bmi":13.6},{"id":121,"age":4,"bmi":13.3},{"id":121,"age":5,"bmi":13.0},{"id":121,"age":6,"bmi":12.0},{"id":121,"age":7,"bmi":12.68},{"id":121,"age":8,"bmi":13.0},{"id":121,"age":9,"bmi":13.1},
{"id":122,"age":1,"bmi":15.1},{"id":122,"age":2,"bmi":14.4},{"id":122,"age":3,"bmi":14.1},{"id":122,"age":4,"bmi":13.6},{"id":122,"age":5,"bmi":13.3},{"id":122,"age":6,"bmi":13.4},{"id":122,"age":7,"bmi":11.9},{"id":122,"age":8,"bmi":13.8},{"id":122,"age":9,"bmi":14.2},
{"id":123,"age":1,"bmi":16.3},{"id":123,"age":2,"bmi":15.1},{"id":123,"age":3,"bmi":14.3},{"id":123,"age":4,"bmi":12.68},{"id":123,"age":5,"bmi":13.1},{"id":123,"age":6,"bmi":12.9},{"id":123,"age":7,"bmi":13.6},{"id":123,"age":8,"bmi":14.1},{"id":123,"age":9,"bmi":14.5},
{"id":124,"age":1,"bmi":13.6},{"id":124,"age":2,"bmi":12.67},{"id":124,"age":3,"bmi":13.4},{"id":124,"age":4,"bmi":13.5},{"id":124,"age":5,"bmi":13.5},{"id":124,"age":6,"bmi":13.2},{"id":124,"age":7,"bmi":13.5},{"id":124,"age":8,"bmi":14.1},{"id":124,"age":9,"bmi":14.6},
{"id":125,"age":1,"bmi":16.0},{"id":125,"age":2,"bmi":16.4},{"id":125,"age":3,"bmi":16.8},{"id":125,"age":4,"bmi":17.3},{"id":125,"age":5,"bmi":17.8},{"id":125,"age":6,"bmi":18.4},{"id":125,"age":7,"bmi":19.6},{"id":125,"age":8,"bmi":20.9},{"id":125,"age":9,"bmi":22.4},
{"id":126,"age":1,"bmi":17.6},{"id":126,"age":2,"bmi":17.1},{"id":126,"age":3,"bmi":17.7},{"id":126,"age":4,"bmi":18.2},{"id":126,"age":5,"bmi":18.9},{"id":126,"age":6,"bmi":19.7},{"id":126,"age":7,"bmi":20.7},{"id":126,"age":8,"bmi":22.1},{"id":126,"age":9,"bmi":23.3},
{"id":127,"age":1,"bmi":15.7},{"id":127,"age":2,"bmi":16.6},{"id":127,"age":3,"bmi":17.3},{"id":127,"age":4,"bmi":16.9},{"id":127,"age":5,"bmi":18.3},{"id":127,"age":6,"bmi":19.3},{"id":127,"age":7,"bmi":19.2},{"id":127,"age":8,"bmi":20.5},{"id":127,"age":9,"bmi":21.4},
{"id":128,"age":1,"bmi":18.5},{"id":128,"age":2,"bmi":18.7},{"id":128,"age":3,"bmi":19.1},{"id":128,"age":4,"bmi":18.4},{"id":128,"age":5,"bmi":19.5},{"id":128,"age":6,"bmi":20.2},{"id":128,"age":7,"bmi":21.9},{"id":128,"age":8,"bmi":22.5},{"id":128,"age":9,"bmi":23.9},
{"id":129,"age":1,"bmi":16.9},{"id":129,"age":2,"bmi":17.9},{"id":129,"age":3,"bmi":18.2},{"id":129,"age":4,"bmi":17.7},{"id":129,"age":5,"bmi":18.5},{"id":129,"age":6,"bmi":18.6},{"id":129,"age":7,"bmi":20.3},{"id":129,"age":8,"bmi":21.8},{"id":129,"age":9,"bmi":22.0},
{"id":130,"age":1,"bmi":14.9},{"id":130,"age":2,"bmi":15.4},{"id":130,"age":3,"bmi":16.2},{"id":130,"age":4,"bmi":16.4},{"id":130,"age":5,"bmi":17.1},{"id":130,"age":6,"bmi":17.4},{"id":130,"age":7,"bmi":18.5},{"id":130,"age":8,"bmi":19.7},{"id":130,"age":9,"bmi":21.3}
]
},
"layer": [
{
"data": {"name": "kids"},
"mark": {"type": "line", "color": "black", "strokeWidth": 1.4},
"encoding": {
"x": {"field": "age", "type": "quantitative", "scale": {"domain": [0.6, 9.4], "nice": false, "zero": false},
"axis": {"values": [1,2,3,4,5,6,7,8,9], "format": "d", "grid": false, "title": "Age, y", "titleFontSize": 14, "titleFontWeight": "normal", "titleColor": "#111", "titlePadding": 8, "labelFontSize": 14, "labelColor": "#111", "labelPadding": 3, "tickSize": 5, "tickColor": "#333", "domainColor": "#333", "domainWidth": 1.2}},
"y": {"field": "bmi", "type": "quantitative", "scale": {"domain": [10, 34], "nice": false, "zero": false},
"axis": {"values": [10,12,14,16,18,20,22,24,26,28,30,32,34], "format": "d", "grid": true, "gridColor": "#c4c4c4", "gridWidth": 1.3, "title": "BMI", "titleFontSize": 14, "titleFontWeight": "normal", "titleColor": "#111", "titlePadding": 10, "labelFontSize": 14, "labelColor": "#111", "labelPadding": 3, "tickSize": 5, "tickColor": "#333", "domainColor": "#333", "domainWidth": 1.2}},
"detail": {"field": "id", "type": "nominal"}
}
},
{
"data": {"name": "kids"},
"mark": {"type": "circle", "color": "black", "opacity": 1, "size": 120},
"encoding": {
"x": {"field": "age", "type": "quantitative"},
"y": {"field": "bmi", "type": "quantitative"}
}
},
{
"data": {"name": "means"},
"mark": {"type": "line", "strokeWidth": 4.5},
"encoding": {
"x": {"field": "age", "type": "quantitative"},
"y": {"field": "bmi", "type": "quantitative"},
"color": {"field": "group", "type": "nominal",
"scale": {"domain": ["Atypical BMI group", "Typical BMI group"], "range": ["#1eecf0", "#ff4010"]},
"legend": {"title": null, "orient": "none", "legendX": 45, "legendY": 39, "symbolType": "M-2.9,0H2.9", "symbolSize": 196, "symbolStrokeWidth": 3, "symbolOffset": 13, "labelFontSize": 13, "labelColor": "#111", "labelFont": "Roboto", "labelLimit": 300, "labelOffset": 18, "strokeColor": "#444", "fillColor": "white", "padding": 8, "rowPadding": 2}}
}
}
]
}
